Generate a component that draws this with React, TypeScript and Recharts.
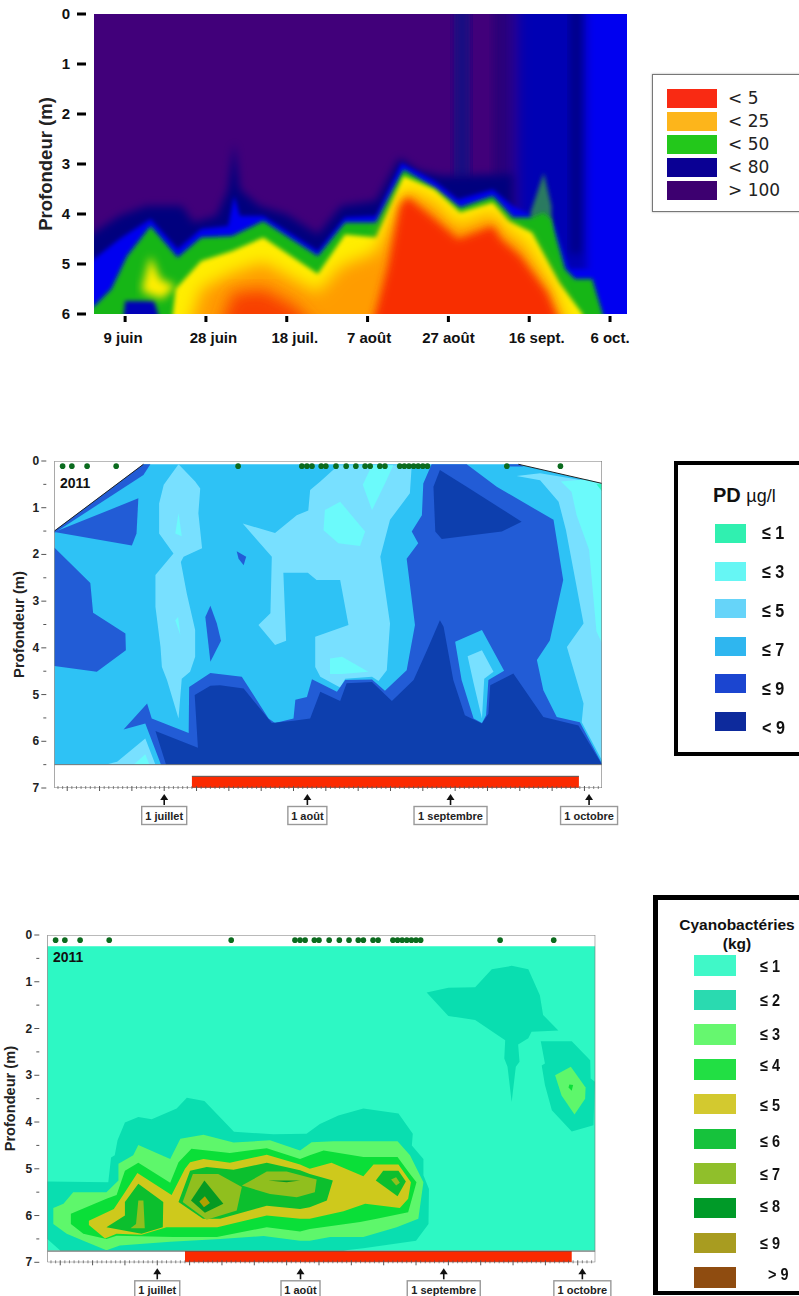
import React from 'react';
import { ScatterChart, Scatter, XAxis, YAxis, ReferenceDot } from 'recharts';

type Pt = [number, number];

const FONT = '"Liberation Sans", Arial, sans-serif';

// ---- top chart: days after 9 juin, depth in m ----
const topTicks = [0, 20, 40, 60, 80, 100, 120];
const topTickLabels = ['9 juin', '28 juin', '18 juil.', '7 août', '27 août', '16 sept.', '6 oct.'];
const topDepths = [0, 1, 2, 3, 4, 5, 6];

const columnDim: Pt[] = [[81.4, -1], [85.3, -1], [85.3, 3.3], [81.4, 3.3]];
const columnFaint: Pt[] = [[91, -1], [95.4, -1], [95.4, 3.3], [91, 3.3]];
const columnMid: Pt[] = [[96.5, -1], [117, -1], [117, 6.5], [96.5, 6.5]];
const columnDark: Pt[] = [[110, -1], [113.2, -1], [113.2, 4.8], [110, 4.8]];
const columnBright: Pt[] = [[114.2, -1], [130, -1], [130, 6.5], [114.2, 6.5]];
const navyEdge: Pt[] = [[-12, 4.6], [-7.7, 4.37], [-1.4, 4.04], [5.3, 3.84], [14, 3.84], [16.9, 4.17], [22.6, 4.04], [25.5, 3.51], [27, 2.58], [28.4, 3.51], [33.2, 3.84], [40, 4.01], [47.7, 4.41], [53.5, 3.84], [62.1, 3.74], [67.9, 2.88], [72.7, 3.14], [78.5, 3.24], [96, 3.2], [96, 6.5], [-12, 6.5]];
const blueEdge: Pt[] = [[-12, 5.1], [-7.7, 4.9], [-1.4, 4.5], [6.3, 4.1], [13, 4.7], [18.8, 4.3], [25.5, 4.24], [27, 3.64], [28.4, 4.04], [34.2, 4.04], [47.7, 4.74], [54.4, 4.07], [62.1, 4.04], [68.4, 2.98], [76.6, 3.34], [82.4, 3.71], [91, 3.51], [95.9, 3.84], [100, 4], [106, 4.2], [110, 5.1], [116, 5.1], [122, 6.5], [-12, 6.5]];
const spike: Pt[] = [[100.3, 3.97], [103.6, 3.18], [105.5, 3.84], [105.5, 5.1], [101, 4.6]];
const greenEdge: Pt[] = [[-12, 5.95], [-7.7, 5.85], [-3.4, 5.5], [0.5, 4.84], [6.3, 4.24], [13, 4.87], [18.8, 4.47], [26.5, 4.44], [34.2, 4.14], [47.7, 4.84], [54.4, 4.17], [62.1, 4.17], [68.9, 3.11], [76.6, 3.48], [82.9, 3.87], [91, 3.64], [95.9, 4.07], [100.7, 4.07], [103.6, 3.97], [105.5, 4.11], [108.9, 5.1], [111.3, 5.3], [115.6, 5.3], [120, 6.5], [-12, 6.5]];
const bottomBlock: Pt[] = [[-1, 6.5], [0, 5.74], [7.2, 5.74], [10, 6.5]];
const yellowEdge: Pt[] = [[11.1, 6.5], [12.5, 5.5], [18.8, 4.94], [26.5, 4.74], [34.2, 4.47], [47.7, 5.2], [54.4, 4.41], [62.1, 4.47], [68.9, 3.24], [76.6, 3.51], [82.9, 3.97], [91, 3.77], [94.9, 4.14], [100.7, 4.37], [107.4, 5.37], [113.2, 6], [113.6, 6.5]];
const yellowBlob: Pt[] = [[4.3, 5.44], [6.3, 4.84], [8.7, 5.3], [12.5, 5.44], [9.2, 5.7], [4.3, 5.56]];
const orangeEdge: Pt[] = [[14.9, 6.5], [18.8, 5.5], [26.5, 5.18], [34.2, 4.97], [47.7, 5.57], [53.5, 5.04], [62.1, 4.77], [67.4, 3.84], [69.4, 3.5], [76.6, 3.77], [82.4, 4.24], [91, 3.97], [93.9, 4.3], [98.7, 4.57], [105.5, 5.43], [110.8, 6.5]];
const redPatch: Pt[] = [[22.6, 6.5], [26.5, 5.58], [34.2, 5.5], [41.9, 5.84], [49.6, 6.5]];
const redEdge: Pt[] = [[60.2, 6.5], [65, 5.04], [67.9, 3.84], [69.8, 3.65], [76.6, 4.1], [82.4, 4.5], [91, 4.24], [93, 4.5], [97.8, 4.84], [104.5, 5.57], [109.3, 6.5]];

// ---- lower charts: days after 1 juillet ----
const sampleDays = [-22, -20, -16.7, -10.4, 16, 29.8, 30.9, 32, 34, 35, 37.2, 39.4, 41.5, 43.5, 44.6, 46.7, 47.8, 51, 52, 53, 54, 55, 56, 57, 74.2, 85.8];
const monthDays = [0, 31, 62, 92];
const monthLabels = ['1 juillet', '1 août', '1 septembre', '1 octobre'];
const monthBoxWidths = [45, 39, 73, 57];
const depthTicks = [0, 0.5, 1, 1.5, 2, 2.5, 3, 3.5, 4, 4.5, 5, 5.5, 6, 6.5, 7];
const dayTicks: number[] = [];
for (let d = -23; d <= 94; d++) dayTicks.push(d);

// PD chart
const pdBase: Pt[] = [[-23.8, 1.5], [-4.5, 0.07], [76.7, 0.07], [94.8, 0.48], [94.8, 6.5], [-23.8, 6.5]];
const pdWedgeA: Pt[] = [[-23.8, 1.5], [-4.5, 0.07], [-3, 0.07], [-4.5, 0.3], [-23.8, 1.54]];
const pdWedgeB: Pt[] = [[-23.8, 1.52], [-5.6, 0.8], [-6, 1.55], [-7, 1.81]];
const pdLeftBlob: Pt[] = [[-23.8, 1.85], [-16, 2.61], [-15.4, 3.25], [-8.4, 3.69], [-8.3, 4.05], [-14.6, 4.51], [-23.8, 4.39]];
const pdColumn5: Pt[] = [[3.1, 0.07], [6.7, 0.44], [7.8, 0.59], [7.4, 1.12], [8.2, 1.87], [4.2, 2.05], [3.6, 2.16], [4.9, 2.84], [6.7, 3.62], [6.7, 4.19], [5.6, 4.51], [3.8, 4.66], [3.1, 5.51], [0.6, 4.69], [-0.5, 4.41], [-0.8, 3.98], [-1.9, 3.12], [-1.9, 2.44], [2, 1.98], [-1.1, 1.55], [-1.1, 0.91], [-0.1, 0.51]];
const pdColumn3A: Pt[] = [[3.1, 1.12], [3.8, 1.61], [2.4, 1.55]];
const pdColumn3B: Pt[] = [[3, 3.34], [3.5, 3.73], [2.4, 3.41]];
const pdIsleA: Pt[] = [[15.7, 1.93], [17.75, 2.05], [17.2, 2.23], [16.1, 2.09]];
const pdIsleB: Pt[] = [[10, 3.1], [11.4, 3.48], [12.3, 3.85], [10, 4.3], [8.9, 3.34]];
const pdCenter5: Pt[] = [[17, 1.34], [24, 1.54], [28.7, 1.16], [31.2, 1.06], [31.6, 0.62], [33.8, 0.44], [37.7, 0.09], [53.6, 0.09], [53.2, 0.69], [48.9, 1.26], [46.8, 2.05], [48.9, 3.48], [48.2, 4.48], [46.4, 4.71], [45, 4.62], [39.2, 4.66], [38.1, 4.85], [33.8, 4.62], [32.7, 4.41], [32.7, 3.76], [39.9, 3.51], [38.1, 2.55], [33, 2.55], [31.1, 2.39], [25.8, 2.39], [26.4, 3.85], [24, 3.94], [20.4, 3.51], [23, 3.26], [23.3, 2.05]];
const pdSpotTop: Pt[] = [[45, 0.09], [49.6, 0.09], [47.8, 0.48], [45, 1.05], [43, 0.51]];
const pdSpotMid: Pt[] = [[38.1, 0.87], [43.5, 1.51], [42.4, 1.82], [37.7, 1.76], [34.5, 1.48], [34.8, 1.05]];
const pdSpotLow: Pt[] = [[35.9, 4.23], [38.5, 4.19], [44.2, 4.51], [38.5, 4.56], [35.9, 4.56]];
const pdRight5: Pt[] = [[76.3, 0.32], [81.4, 0.26], [94.8, 0.48], [94.8, 6.41], [90.4, 5.59], [90.8, 5.19], [87.2, 3.98], [90.8, 3.48], [87, 1.48], [85.4, 0.87], [81.4, 0.41]];
const pdRight3: Pt[] = [[85.9, 0.44], [91.5, 0.39], [94.8, 0.48], [94.8, 3.9], [93.6, 3.65], [92, 1.9], [89.3, 1.16], [88.2, 0.66]];
const pdRight1: Pt[] = [[93.6, 0.5], [94.8, 0.49], [94.8, 0.65]];
const pdBottom5: Pt[] = [[-12.8, 6.5], [-10.2, 6.44], [-4.1, 5.94], [-1.9, 6.5]];
const pdBottom3: Pt[] = [[-6.6, 6.5], [-4.1, 6.28], [-3.2, 6.5]];
const pd9: Pt[] = [[-0.7, 6.5], [-4.1, 5.62], [-8.8, 5.75], [-3.7, 5.19], [-2.7, 5.51], [5.3, 5.82], [5.4, 4.84], [10, 4.54], [16.8, 4.62], [22.6, 5.51], [24, 5.61], [28, 5.51], [28.4, 5.11], [30.9, 5.05], [32, 4.67], [37.4, 4.94], [39.2, 4.69], [45, 4.68], [47.8, 4.92], [52.5, 4.48], [54.3, 3.51], [52.5, 2.09], [55, 1.76], [53.6, 1.51], [55.8, 1.16], [56.1, 0.48], [57.9, 0.07], [65.5, 0.07], [72, 0.55], [84.3, 1.26], [86.4, 2.55], [83.5, 3.84], [80.7, 4.26], [82.1, 4.91], [85, 5.48], [90, 5.59], [94.8, 6.48], [94.8, 6.5]];
const pd9Top: Pt[] = [[74, 0.07], [77, 0.07], [77.8, 0.12], [75, 0.12]];
const pdDarkLow: Pt[] = [[-1.9, 5.78], [7.3, 6.14], [6.6, 5.01], [10, 4.81], [12.1, 4.8], [17.2, 4.87], [23.3, 5.61], [28, 5.56], [31.6, 5.51], [33.8, 4.94], [38.1, 5.14], [39.5, 4.76], [45, 4.73], [49.3, 5.14], [54, 4.69], [56.9, 4.05], [59.7, 3.41], [60.5, 3.55], [62.6, 4.69], [65.1, 5.44], [68.8, 5.62], [70.2, 5.41], [70.6, 4.8], [75.6, 4.55], [82.1, 5.48], [89.7, 5.66], [94.8, 6.5], [0.4, 6.5]];
const pdDarkTop: Pt[] = [[59.7, 0.19], [65.5, 0.55], [77.4, 1.3], [73.1, 1.51], [60.1, 1.67], [58.7, 1.51], [58.3, 0.55]];
const pdPocket7: Pt[] = [[63, 3.87], [68.8, 3.62], [73.6, 4.49], [70.2, 4.69], [69.7, 5.44], [68.8, 5.61], [67, 5.51], [64.4, 4.69]];
const pdPocket5: Pt[] = [[65.7, 4.18], [68.8, 4.05], [71.3, 4.51], [69.3, 4.66], [68.8, 5.51], [67, 4.76]];
const pdEdgeLeft: Pt[] = [[-23.8, 1.5], [-4.5, 0.07]];
const pdEdgeRight: Pt[] = [[76.7, 0.07], [94.8, 0.48]];
const pdBar: Pt[] = [[6, 6.75], [89.8, 6.75], [89.8, 7], [6, 7]];

// Cyanobacteria chart
const cyBase: Pt[] = [[-23.8, 0.24], [94.8, 0.24], [94.8, 6.75], [-23.8, 6.75]];
const cy2: Pt[] = [[-23.8, 5.27], [-10.6, 5.29], [-10, 4.76], [-9.2, 4.71], [-8.6, 4.39], [-7, 4.01], [-4.1, 3.89], [-1.2, 3.94], [4.2, 3.71], [6.4, 3.48], [10.2, 3.55], [16.6, 4.21], [25.1, 4.26], [32.3, 4.25], [35.2, 4.04], [39.2, 3.86], [44.6, 3.71], [52.2, 3.82], [55.3, 4.25], [55.1, 4.5], [57.6, 4.79], [57.6, 5.14], [58.8, 5.43], [58.7, 6.18], [56, 6.54], [44.6, 6.7], [40.3, 6.75], [-21, 6.75], [-23.8, 6.5]];
const cy3: Pt[] = [[-22.5, 5.84], [-20.3, 5.75], [-18.2, 5.5], [-11, 5.5], [-8.4, 5.25], [-8.4, 4.89], [-5.2, 4.71], [-4.1, 4.49], [2.8, 4.79], [5, 4.36], [10, 4.27], [16.5, 4.44], [24.4, 4.39], [30.9, 4.61], [33.4, 4.43], [38.1, 4.41], [46, 4.41], [52, 4.41], [54.7, 4.71], [57.6, 5.29], [56.5, 6.07], [51.8, 6.25], [44.6, 6.46], [37.4, 6.46], [33, 6.54], [30.9, 6.54], [23, 6.44], [13.6, 6.5], [2.8, 6.56], [-8.1, 6.64], [-11, 6.74], [-16, 6.54], [-19.6, 6.39], [-22.5, 6.18]];
const cy4: Pt[] = [[-18.7, 5.96], [-11, 5.64], [-8.8, 5.56], [-7, 5.04], [-4.1, 4.87], [2.8, 5.3], [4.6, 4.86], [7.4, 4.57], [15.7, 4.66], [23.7, 4.56], [30.9, 4.79], [33, 4.71], [36, 4.61], [44.6, 4.75], [52, 4.75], [54.7, 5.11], [56.1, 5.29], [54.3, 5.93], [47.5, 6.07], [43.9, 6.14], [33, 6.29], [30.9, 6.34], [23.7, 6.25], [12.9, 6.46], [3.5, 6.46], [-8.8, 6.43], [-11, 6.5], [-16, 6.39], [-18.7, 6.18]];
const cy5: Pt[] = [[-14.8, 6.11], [-9.4, 5.86], [-7, 5.5], [-4.3, 5.09], [3.1, 5.56], [6, 5], [7.1, 4.86], [10, 4.79], [15.7, 4.87], [23.7, 4.7], [30.9, 4.91], [33, 5], [37.7, 4.87], [44.6, 5.16], [46.8, 4.91], [52.2, 4.91], [54.9, 5.29], [54.3, 5.64], [52.5, 5.84], [45, 5.75], [40.3, 5.91], [33, 6.07], [30.9, 6.07], [23.7, 6], [13, 6.25], [2, 6.25], [-3.4, 6.41], [-8.8, 6.39], [-11.3, 6.49], [-14.8, 6.2]];
const cy6Main: Pt[] = [[4.6, 5.71], [7.1, 5.04], [10.7, 4.96], [16.5, 5.02], [23.7, 4.87], [30.9, 5.03], [33, 5.11], [38, 5.25], [36.7, 5.68], [33, 5.82], [30.9, 5.86], [23.7, 5.79], [13.6, 6.07], [9.9, 6.07]];
const cy6Left: Pt[] = [[-4.1, 5.32], [1.3, 5.71], [1.2, 6.25], [-3.4, 6.39], [-11, 6.25], [-7, 6], [-7, 5.71]];
const cy6Right: Pt[] = [[47.3, 5.25], [48.9, 5.04], [52.2, 5.04], [53.8, 5.27], [52, 5.59]];
const cy7A: Pt[] = [[5.5, 5.71], [7.7, 5.11], [13.2, 5.11], [18.3, 5.39], [17.2, 5.89], [10.7, 6.09]];
const cy7B: Pt[] = [[18.3, 5.36], [23.7, 5.06], [28, 5.06], [34.5, 5.23], [34.1, 5.5], [30.2, 5.61], [24.4, 5.54]];
const cy7Left: Pt[] = [[-4.1, 5.68], [-3, 5.68], [-2.7, 6.27], [-5.8, 6.27], [-4.6, 6.18]];
const cy7Right: Pt[] = [[50.6, 5.23], [51.7, 5.18], [52.5, 5.3], [51.7, 5.36]];
const cy8A: Pt[] = [[10.2, 5.25], [14.3, 5.75], [10.3, 5.94], [7.3, 5.68]];
const cy8Line: Pt[] = [[24, 5.25], [30.9, 5.25], [28, 5.29]];
const cy9: Pt[] = [[10.3, 5.59], [11.4, 5.73], [10.1, 5.82], [9.1, 5.7]];
const cy2Top: Pt[] = [[58.3, 1.23], [63, 1.13], [68.8, 1.12], [72.4, 0.73], [76.7, 0.66], [80.3, 0.73], [82.8, 1.29], [83.5, 1.71], [86.8, 2.04], [81, 2.07], [80.3, 2.21], [78.1, 2.34], [78.4, 2.71], [77.6, 2.82], [76.7, 3.57], [75.8, 2.82], [75.1, 2.64], [75.3, 2.25], [68.8, 1.82], [63, 1.73]];
const cy2Right: Pt[] = [[83, 2.27], [89.7, 2.27], [93.7, 2.68], [93.8, 3.07], [94.7, 3.14], [94.4, 4.07], [89.7, 4.2], [85.4, 3.75], [83.9, 3.21], [83.2, 2.79], [83.9, 2.75]];
const cy3Right: Pt[] = [[86.1, 3], [89.5, 2.82], [92.7, 3.26], [92.6, 3.5], [90.3, 3.84], [87.5, 3.43]];
const cy4Right: Pt[] = [[89.2, 3.2], [90, 3.21], [89.7, 3.33], [89, 3.26]];
const cyBar: Pt[] = [[6, 6.76], [89.7, 6.76], [89.7, 7], [6, 7]];

// legends
const legendTopColors = ['#F92A13', '#FDB51B', '#23C81B', '#0A0094', '#3D0070'];
const legendTopLabels = ['< 5', '< 25', '< 50', '< 80', '> 100'];
const legendPdColors = ['#30F0B0', '#66F6F4', '#66D4F9', '#2FB6EF', '#1B45D0', '#0D2A9C'];
const legendPdLabels = ['≤ 1', '≤ 3', '≤ 5', '≤ 7', '≤ 9', '< 9'];
const legendCyColors = ['#40F8C8', '#2ADAB0', '#66F76F', '#22DF44', '#D3C92F', '#16C23C', '#90BF2B', '#009A28', '#A89C20', '#8F4C10'];
const legendCyLabels = ['≤ 1', '≤ 2', '≤ 3', '≤ 4', '≤ 5', '≤ 6', '≤ 7', '≤ 8', '≤ 9', '> 9'];

const PD = { l1: '#2DF8C4', l3: '#6BFAFB', l5: '#78E0FF', l7: '#2EC2F5', l9: '#225CD6', l10: '#0D3FAE' };
const CY = { l1: '#2DF8C4', l2: '#09DEB0', l3: '#5EF76B', l4: '#0ADF38', l5: '#CEC91C', l6: '#0CBF2E', l7: '#90BF1E', l8: '#059A22', l9: '#B0A000' };

const toXY = (pts: Pt[]) => pts.map(([x, y]) => ({ x, y }));

// a filled region: Scatter gives the scaled points, we close them into a polygon
function region(key: string, pts: Pt[], fill: string, blur?: string) {
  const drawLine = (p: any) => {
    const str = p.points.map((q: any) => `${q.x},${q.y}`).join(' ');
    const poly = <polygon points={str} fill={fill} filter={blur ? `url(#${blur})` : undefined} />;
    return blur ? <g clipPath="url(#topClip)">{poly}</g> : poly;
  };
  return (
    <Scatter key={key} data={toXY(pts)} line={drawLine} shape={() => <g />} isAnimationActive={false} />
  );
}

function edge(key: string, pts: Pt[], stroke: string, width = 1) {
  const drawLine = (p: any) => (
    <polyline points={p.points.map((q: any) => `${q.x},${q.y}`).join(' ')} fill="none" stroke={stroke} strokeWidth={width} />
  );
  return <Scatter key={key} data={toXY(pts)} line={drawLine} shape={() => <g />} isAnimationActive={false} />;
}

const TOP_LABEL_SHIFT = [-2, 7.5, 8, 1.5, 0, 7.5, 0];

const TopXTick = (p: any) => {
  const i = topTicks.indexOf(p.payload.value);
  return (
    <g>
      <rect x={p.x - 1.5} y={p.y - 6} width={3} height={6} fill="#000" />
      <text x={p.x + TOP_LABEL_SHIFT[i]} y={p.y + 21} textAnchor="middle" fontSize={15} fontWeight="bold" fontFamily={FONT} fill="#111">
        {topTickLabels[i]}
      </text>
    </g>
  );
};

const TopYTick = (p: any) => (
  <g>
    <rect x={p.x - 9} y={p.y - 1.5} width={9} height={3} fill="#000" />
    <text x={p.x - 16} y={p.y + 5} textAnchor="end" fontSize={15} fontWeight="bold" fontFamily={FONT} fill="#111">
      {p.payload.value}
    </text>
  </g>
);

const DayTick = (p: any) => {
  const d = p.payload.value;
  const major = d % 7 === 0;
  const m = monthDays.indexOf(d);
  const w = monthBoxWidths[m];
  return (
    <g>
      <line x1={p.x} x2={p.x} y1={p.y - 8} y2={p.y - 8 + (major ? 5 : 3)} stroke="#555" strokeWidth={major ? 1 : 0.7} />
      {m >= 0 && (
        <g>
          <line x1={p.x} x2={p.x} y1={p.y + 11} y2={p.y + 3} stroke="#111" strokeWidth={1.6} />
          <polygon points={`${p.x - 4},${p.y + 6} ${p.x},${p.y} ${p.x + 4},${p.y + 6}`} fill="#111" />
          <rect x={p.x - w / 2} y={p.y + 12.5} width={w} height={18} fill="#fff" stroke="#999" strokeWidth={1.4} />
          <text x={p.x} y={p.y + 25.5} textAnchor="middle" fontSize={11} fontWeight="bold" fontFamily={FONT} fill="#222">
            {monthLabels[m]}
          </text>
        </g>
      )}
    </g>
  );
};

const DepthTick = (p: any) => {
  const v = p.payload.value;
  const major = Number.isInteger(v);
  return (
    <g>
      <line x1={p.x - (major ? 5 : 3)} x2={p.x} y1={p.y} y2={p.y} stroke="#555" strokeWidth={1} />
      {major && (
        <text x={p.x - 7} y={p.y + 4} textAnchor="end" fontSize={12} fontWeight="bold" fontFamily={FONT} fill="#222">
          {v}
        </text>
      )}
    </g>
  );
};

const GreenDot = (p: any) => <circle cx={p.cx} cy={p.cy} r={2.8} fill="#0B6B1E" />;

const depthLabel = (size: number, offset: number) => ({
  value: 'Profondeur (m)',
  angle: -90,
  position: 'insideLeft' as const,
  offset,
  textAnchor: 'middle',
  fontSize: size,
  fontWeight: 'bold',
  fontFamily: FONT,
  fill: '#222',
});

function TopChart() {
  return (
    <ScatterChart width={650} height={350} margin={{ left: 44, top: 14, right: 23, bottom: 0 }}>
      <defs>
        <clipPath id="topClip">
          <rect x={94} y={14} width={533} height={300} />
        </clipPath>
        <filter id="blurS" x="-20%" y="-20%" width="140%" height="140%">
          <feGaussianBlur stdDeviation="2.2" />
        </filter>
        <filter id="blurM" x="-20%" y="-20%" width="140%" height="140%">
          <feGaussianBlur stdDeviation="4.5" />
        </filter>
        <filter id="blurL" x="-20%" y="-20%" width="140%" height="140%">
          <feGaussianBlur stdDeviation="8" />
        </filter>
      </defs>
      <XAxis type="number" dataKey="x" domain={[-7.7, 124.2]} ticks={topTicks} interval={0} tick={TopXTick} tickLine={false} axisLine={false} height={36} allowDataOverflow />
      <YAxis type="number" dataKey="y" reversed domain={[0, 6]} ticks={topDepths} interval={0} tick={TopYTick} tickLine={false} axisLine={false} width={50} allowDataOverflow
        label={depthLabel(18.5, 1)} />
      {region('bg', [[-12, -1], [130, -1], [130, 6.5], [-12, 6.5]], '#41007A')}
      {region('colDim', columnDim, '#150A82', 'blurM')}
      {region('colFaint', columnFaint, '#2A0078', 'blurM')}
      {region('colMid', columnMid, '#0000B4', 'blurL')}
      {region('colDark', columnDark, '#00008A', 'blurM')}
      {region('colBright', columnBright, '#0000F0', 'blurM')}
      {region('navy', navyEdge, '#00007E', 'blurM')}
      {region('blue', blueEdge, '#0000F0', 'blurS')}
      {region('spike', spike, '#2A7A60', 'blurS')}
      {region('green', greenEdge, '#14B614', 'blurS')}
      {region('block', bottomBlock, '#0000B8', 'blurS')}
      {region('yellow', yellowEdge, '#FFEE00', 'blurS')}
      {region('blob', yellowBlob, '#FFEE00', 'blurM')}
      {region('orange', orangeEdge, '#FF9C00', 'blurL')}
      {region('redL', redPatch, '#F84000', 'blurL')}
      {region('red', redEdge, '#F82E00', 'blurM')}
    </ScatterChart>
  );
}

function PdChart() {
  return (
    <ScatterChart width={640} height={400} margin={{ left: 10.3, top: 21, right: 38, bottom: 0 }}>
      <XAxis type="number" dataKey="x" domain={[-23.8, 94.8]} ticks={dayTicks} interval={0} tick={DayTick} tickLine={false} axisLine={false} height={52} tickMargin={0} allowDataOverflow />
      <YAxis type="number" dataKey="y" reversed domain={[0, 7]} ticks={depthTicks} interval={0} tick={DepthTick} tickLine={false} axisLine={false} width={44} allowDataOverflow
        label={depthLabel(14.8, 8)} />
      {region('base', pdBase, PD.l7)}
      {region('wa', pdWedgeA, PD.l9)}
      {region('wb', pdWedgeB, PD.l9)}
      {region('lb', pdLeftBlob, PD.l9)}
      {region('c5', pdColumn5, PD.l5)}
      {region('c3a', pdColumn3A, PD.l3)}
      {region('c3b', pdColumn3B, PD.l3)}
      {region('ia', pdIsleA, PD.l9)}
      {region('ib', pdIsleB, PD.l9)}
      {region('m5', pdCenter5, PD.l5)}
      {region('s1', pdSpotTop, PD.l3)}
      {region('s2', pdSpotMid, PD.l3)}
      {region('s3', pdSpotLow, PD.l3)}
      {region('r5', pdRight5, PD.l5)}
      {region('r3', pdRight3, PD.l3)}
      {region('r1', pdRight1, PD.l1)}
      {region('b5', pdBottom5, PD.l5)}
      {region('b3', pdBottom3, PD.l3)}
      {region('p9', pd9, PD.l9)}
      {region('p9t', pd9Top, PD.l9)}
      {region('dl', pdDarkLow, PD.l10)}
      {region('dt', pdDarkTop, PD.l10)}
      {region('k7', pdPocket7, PD.l7)}
      {region('k5', pdPocket5, PD.l5)}
      {edge('el', pdEdgeLeft, '#222')}
      {edge('er', pdEdgeRight, '#222')}
      {region('bar', pdBar, '#FB2A00')}
      {edge('barTop', [pdBar[0], pdBar[1]], '#555')}
      {edge('line65', [[-23.8, 6.5], [94.8, 6.5]], '#777')}
      {edge('frame', [[-23.8, 7], [-23.8, 0], [94.8, 0], [94.8, 7], [-23.8, 7]], '#777', 1.2)}
      <Scatter data={sampleDays.map((x) => ({ x, y: 0.11 }))} shape={GreenDot} isAnimationActive={false} />
      <ReferenceDot x={-19.3} y={0.47} r={0} fill="none" stroke="none"
        label={{ value: '2011', position: 'center', fontSize: 14, fontWeight: 'bold', fontFamily: FONT, fill: '#111' }} />
    </ScatterChart>
  );
}

function CyChart() {
  return (
    <ScatterChart width={640} height={381} margin={{ left: 3.3, top: 20, right: 44.7, bottom: 0 }}>
      <XAxis type="number" dataKey="x" domain={[-23.8, 94.8]} ticks={dayTicks} interval={0} tick={DayTick} tickLine={false} axisLine={false} height={33.7} tickMargin={0} allowDataOverflow />
      <YAxis type="number" dataKey="y" reversed domain={[0, 7]} ticks={depthTicks} interval={0} tick={DepthTick} tickLine={false} axisLine={false} width={44} allowDataOverflow
        label={depthLabel(14.6, 7)} />
      {region('base', cyBase, CY.l1)}
      {region('c2', cy2, CY.l2)}
      {region('c3', cy3, CY.l3)}
      {region('c4', cy4, CY.l4)}
      {region('c5', cy5, CY.l5)}
      {region('c6m', cy6Main, CY.l6)}
      {region('c6l', cy6Left, CY.l6)}
      {region('c6r', cy6Right, CY.l6)}
      {region('c7a', cy7A, CY.l7)}
      {region('c7b', cy7B, CY.l7)}
      {region('c7l', cy7Left, CY.l7)}
      {region('c7r', cy7Right, CY.l7)}
      {region('c8a', cy8A, CY.l8)}
      {region('c8l', cy8Line, CY.l8)}
      {region('c9', cy9, CY.l9)}
      {region('t2', cy2Top, CY.l2)}
      {region('r2', cy2Right, CY.l2)}
      {region('r3', cy3Right, CY.l3)}
      {region('r4', cy4Right, CY.l4)}
      {region('bar', cyBar, '#FB2A00')}
      {edge('barTop', [[-23.8, 6.76], [94.8, 6.76]], '#555')}
      {edge('frame', [[-23.8, 7], [-23.8, 0], [94.8, 0], [94.8, 7], [-23.8, 7]], '#777', 1.2)}
      <Scatter data={sampleDays.map((x) => ({ x, y: 0.11 }))} shape={GreenDot} isAnimationActive={false} />
      <ReferenceDot x={-19.3} y={0.48} r={0} fill="none" stroke="none"
        label={{ value: '2011', position: 'center', fontSize: 14, fontWeight: 'bold', fontFamily: FONT, fill: '#111' }} />
    </ScatterChart>
  );
}

const abs = (left: number, top: number, extra: React.CSSProperties = {}): React.CSSProperties => ({ position: 'absolute', left, top, ...extra });

const narrow: React.CSSProperties = { transform: 'scaleX(0.85)', transformOrigin: 'left center' };

function TopLegend() {
  return (
    <div style={abs(652, 74, { width: 160, height: 138, border: '1.5px solid #777', boxShadow: '0 0 2px #aaa', boxSizing: 'border-box' })}>
      {legendTopColors.map((c, i) => (
        <React.Fragment key={i}>
          <div style={abs(14, 14 + i * 23, { width: 50, height: 19, background: c })} />
          <div style={abs(75, 12 + i * 23, { fontSize: 17, lineHeight: '22px', fontFamily: '"DejaVu Sans", sans-serif', color: '#222', whiteSpace: 'nowrap' })}>{legendTopLabels[i]}</div>
        </React.Fragment>
      ))}
    </div>
  );
}

function PdLegend() {
  return (
    <div style={abs(674, 461, { width: 140, height: 295, border: '4px solid #000', boxSizing: 'border-box' })}>
      <div style={abs(35, 19, { fontSize: 20, lineHeight: '22px', fontFamily: FONT, color: '#111', whiteSpace: 'nowrap' })}>
        <b>PD</b> <span style={{ fontSize: 18 }}>µg/l</span>
      </div>
      {legendPdColors.map((c, i) => (
        <React.Fragment key={i}>
          <div style={abs(37, 59 + i * 37.6, { width: 31, height: 19, background: c })} />
          <div style={abs(84, 57 + i * 39, { fontSize: 19, lineHeight: '22px', fontWeight: 'bold', fontFamily: FONT, color: '#111', whiteSpace: 'nowrap', ...narrow })}>{legendPdLabels[i]}</div>
        </React.Fragment>
      ))}
    </div>
  );
}

const cyLabelTops = [956, 990, 1024, 1055, 1095, 1131, 1164, 1196, 1233, 1264];

function CyLegend() {
  return (
    <div style={abs(653, 895, { width: 160, height: 400, border: '5px solid #000', borderBottomWidth: 4, boxSizing: 'border-box' })}>
      <div style={abs(0, 15, { width: 158, textAlign: 'center', fontSize: 15.5, lineHeight: '19px', fontWeight: 'bold', fontFamily: FONT, color: '#111' })}>
        Cyanobactéries<br />(kg)
      </div>
      {legendCyColors.map((c, i) => (
        <React.Fragment key={i}>
          <div style={abs(36, 55 + i * 34.7, { width: 42, height: 20.5, background: c })} />
          <div style={abs(i === 9 ? 110 : 102, cyLabelTops[i] - 900, { fontSize: 17, lineHeight: '22px', fontWeight: 'bold', fontFamily: FONT, color: '#111', whiteSpace: 'nowrap', ...narrow })}>{legendCyLabels[i]}</div>
        </React.Fragment>
      ))}
    </div>
  );
}

export default function App() {
  return (
    <div style={{ position: 'absolute', left: 0, top: 0, width: 799, height: 1296, overflow: 'hidden', background: '#fff' }}>
      <div style={abs(0, 0)}><TopChart /></div>
      <div style={abs(0, 440)}><PdChart /></div>
      <div style={abs(0, 915)}><CyChart /></div>
      <TopLegend />
      <PdLegend />
      <CyLegend />
    </div>
  );
}
